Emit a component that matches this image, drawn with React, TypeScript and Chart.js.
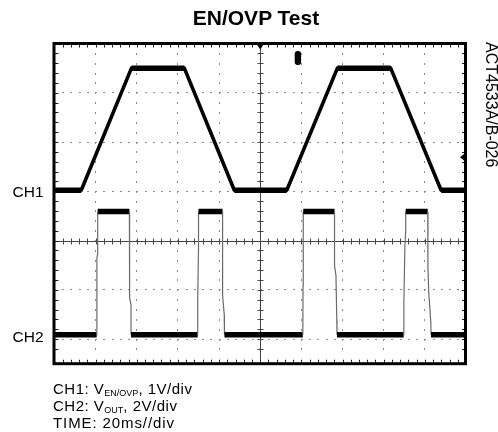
import React, { useEffect, useRef } from "react";
import { Chart, registerables } from "chart.js";

Chart.register(...registerables);

// ---- data (time in ms, voltages in V) ----
const ch1TimeMs = [0, 13.0, 37.4, 63.1, 87.4, 112.9, 137.5, 163.4, 187.9, 200];
const ch1Volts = [0, 0, 2.48, 2.48, 0, 0, 2.48, 2.48, 0, 0];

const ch2TimeMs = [
  0,
  20.5, 20.6, 21.0, 21.0,
  36.4, 36.5, 37.2, 37.2,
  69.6, 69.6, 70.0, 70.0,
  81.7, 81.7, 82.5, 82.6,
  120.7, 120.8, 120.9, 120.9,
  136.1, 136.1, 136.8, 137.2, 137.3,
  169.7, 169.8, 170.3, 170.7, 170.7,
  181.4, 181.5, 181.9, 182.9, 183.0,
  200,
];
const ch2Volts = [
  0,
  0, 3.1, 3.3, 5.0,
  5.0, 1.5, 1.2, 0,
  0, 1.5, 3.5, 5.0,
  5.0, 1.6, 0.8, 0,
  0, 2.0, 4.0, 5.0,
  5.0, 2.8, 2.4, 0.6, 0,
  0, 1.3, 3.6, 4.2, 5.0,
  5.0, 2.7, 1.7, 0.5, 0,
  0,
];

const ch1VoltsPerDiv = 1;
const ch2VoltsPerDiv = 2;
const ch1OffsetDiv = 1.02;
const ch2OffsetDiv = -1.91;
const timeMinMs = 0;
const timeMaxMs = 200;
const msPerDiv = 20;
const divMin = -2.5;
const divMax = 4;
const triggerTimeMs = 100;
const triggerLevelV = 0.67;
const markerTimeMs = 118.3;

const toPoints = (t: number[], v: number[], off: number, vpd: number) =>
  t.map((tt, i) => ({ x: tt, y: off + v[i] / vpd }));

const scopeGrid = {
  id: "scopeGrid",
  beforeDatasetsDraw(chart: any) {
    const { ctx, chartArea: a, scales } = chart;
    const x = scales.x;
    const y = scales.y;
    ctx.save();
    ctx.fillStyle = "#8a8a8a";
    for (let i = 1; i < 10; i++) {
      if (i === 5) continue;
      const px = Math.floor(x.getPixelForValue(timeMinMs + i * msPerDiv));
      for (let k = Math.ceil(divMin * 5) + 1; k < divMax * 5; k++) {
        const py = Math.floor(y.getPixelForValue(k / 5));
        ctx.fillRect(px, py, 1, 2);
      }
    }
    for (let d = Math.ceil(divMin); d < divMax; d++) {
      if (d === 0) continue;
      const py = Math.floor(y.getPixelForValue(d));
      for (let k = 1; k < 50; k++) {
        const px = Math.floor(x.getPixelForValue(timeMinMs + (k * msPerDiv) / 5));
        ctx.fillRect(px, py, 2, 1);
      }
    }
    ctx.strokeStyle = "#444";
    ctx.lineWidth = 1;
    const cx = Math.round(x.getPixelForValue(triggerTimeMs)) + 0.5;
    const cy = Math.round(y.getPixelForValue(0)) + 0.5;
    ctx.beginPath();
    ctx.moveTo(cx, a.top);
    ctx.lineTo(cx, a.bottom);
    ctx.moveTo(a.left, cy);
    ctx.lineTo(a.right, cy);
    for (let k = 1; k < 50; k++) {
      const px = Math.round(x.getPixelForValue(timeMinMs + (k * msPerDiv) / 5)) + 0.5;
      ctx.moveTo(px, cy - 3);
      ctx.lineTo(px, cy + 3);
    }
    for (let k = Math.ceil(divMin * 5) + 1; k < divMax * 5; k++) {
      const py = Math.round(y.getPixelForValue(k / 5)) + 0.5;
      ctx.moveTo(cx - 3, py);
      ctx.lineTo(cx + 3, py);
    }
    ctx.stroke();
    ctx.strokeStyle = "#222";
    ctx.beginPath();
    for (let k = 1; k < 50; k++) {
      const px = Math.round(x.getPixelForValue(timeMinMs + (k * msPerDiv) / 5)) + 0.5;
      ctx.moveTo(px, a.top);
      ctx.lineTo(px, a.top + 4);
      ctx.moveTo(px, a.bottom);
      ctx.lineTo(px, a.bottom - 4);
    }
    for (let k = Math.ceil(divMin * 5) + 1; k < divMax * 5; k++) {
      const py = Math.round(y.getPixelForValue(k / 5)) + 0.5;
      ctx.moveTo(a.left, py);
      ctx.lineTo(a.left + 4, py);
      ctx.moveTo(a.right, py);
      ctx.lineTo(a.right - 4, py);
    }
    ctx.stroke();
    ctx.restore();
  },
  afterDatasetsDraw(chart: any) {
    const { ctx, chartArea: a, scales } = chart;
    const x = scales.x;
    const y = scales.y;
    ctx.save();
    ctx.strokeStyle = "#000";
    ctx.lineWidth = 3;
    ctx.strokeRect(a.left - 0.5, a.top, a.right - a.left, a.bottom - a.top);
    ctx.fillStyle = "#000";
    const tx = x.getPixelForValue(triggerTimeMs);
    ctx.beginPath();
    ctx.moveTo(tx - 4, a.top);
    ctx.lineTo(tx + 4, a.top);
    ctx.lineTo(tx, a.top + 6);
    ctx.closePath();
    ctx.fill();
    const mx = x.getPixelForValue(markerTimeMs);
    ctx.beginPath();
    (ctx as any).roundRect(mx - 3.2, a.top + 7.5, 6.4, 14, 3);
    ctx.fill();
    const ly = y.getPixelForValue(ch1OffsetDiv + triggerLevelV / ch1VoltsPerDiv);
    ctx.beginPath();
    ctx.moveTo(a.right - 1, ly - 4);
    ctx.lineTo(a.right - 1, ly + 4);
    ctx.lineTo(a.right - 6, ly);
    ctx.closePath();
    ctx.fill();
    ctx.restore();
  },
};

const isEdge = (c: any) => c.p0.parsed.y !== c.p1.parsed.y;

export default function App() {
  const ref = useRef<HTMLCanvasElement | null>(null);
  useEffect(() => {
    if (!ref.current) return;
    const ch1 = toPoints(ch1TimeMs, ch1Volts, ch1OffsetDiv, ch1VoltsPerDiv);
    const ch2 = toPoints(ch2TimeMs, ch2Volts, ch2OffsetDiv, ch2VoltsPerDiv);
    const chart = new Chart(ref.current, {
      type: "line",
      data: {
        datasets: [
          {
            data: ch1,
            borderColor: "#000",
            borderWidth: 5.5,
            pointRadius: 0,
            segment: {
              borderColor: (c: any) => (isEdge(c) ? "rgba(0,0,0,0)" : "#000"),
            },
          },
          {
            data: ch1,
            borderColor: "#000",
            borderWidth: 3.6,
            pointRadius: 0,
            borderJoinStyle: "round",
          },
          {
            data: ch2,
            borderColor: "#000",
            borderWidth: 5.5,
            pointRadius: 0,
            segment: {
              borderColor: (c: any) => (isEdge(c) ? "#6a6a6a" : "#000"),
              borderWidth: (c: any) => (isEdge(c) ? 1.2 : 5.5),
            },
          },
        ] as any,
      },
      options: {
        animation: false,
        responsive: false,
        devicePixelRatio: 1,
        events: [],
        layout: { padding: { left: 54.5, right: 32, top: 43.5, bottom: 68.3 } },
        scales: {
          x: { type: "linear", min: timeMinMs, max: timeMaxMs, display: false },
          y: { type: "linear", min: divMin, max: divMax, display: false },
        },
        plugins: { legend: { display: false }, tooltip: { enabled: false } },
      } as any,
      plugins: [scopeGrid],
    });
    return () => chart.destroy();
  }, []);

  const font = '"Liberation Sans", Arial, Helvetica, sans-serif';
  const sub: React.CSSProperties = {
    fontSize: "9px",
    position: "relative",
    top: "2px",
    letterSpacing: 0,
    lineHeight: 0,
  };
  const line = (top: number, ls: string): React.CSSProperties => ({
    position: "absolute",
    left: 53,
    top,
    height: 17,
    fontSize: "15px",
    lineHeight: "17px",
    whiteSpace: "nowrap",
    letterSpacing: ls,
  });

  return (
    <div
      style={{
        position: "fixed",
        left: 0,
        top: 0,
        width: 498,
        height: 432,
        background: "#fff",
        fontFamily: font,
        color: "#000",
        overflow: "hidden",
      }}
    >
      <canvas ref={ref} width={498} height={432} style={{ position: "absolute", left: 0, top: 0 }} />
      <div
        style={{
          position: "absolute",
          left: 156,
          width: 200,
          top: 7.2,
          textAlign: "center",
          fontWeight: "bold",
          fontSize: "21px",
          lineHeight: "21px",
          whiteSpace: "nowrap",
        }}
      >
        EN/OVP Test
      </div>
      <div style={{ position: "absolute", left: 12.5, top: 183.6, fontSize: "15.5px", lineHeight: "15.5px" }}>CH1</div>
      <div style={{ position: "absolute", left: 12.5, top: 328.6, fontSize: "15.5px", lineHeight: "15.5px" }}>CH2</div>
      <div
        style={{
          position: "absolute",
          left: 498.5,
          top: 41.7,
          fontSize: "16px",
          lineHeight: "16px",
          whiteSpace: "nowrap",
          transform: "rotate(90deg)",
          transformOrigin: "0 0",
        }}
      >
        ACT4533A/B-026
      </div>
      <div style={line(379.6, "0.5px")}>
        CH1: V<span style={sub}>EN/OVP</span>, 1V/div
      </div>
      <div style={line(397, "0.5px")}>
        CH2: V<span style={sub}>OUT</span>, 2V/div
      </div>
      <div style={line(413.6, "0.9px")}>TIME: 20ms//div</div>
    </div>
  );
}
